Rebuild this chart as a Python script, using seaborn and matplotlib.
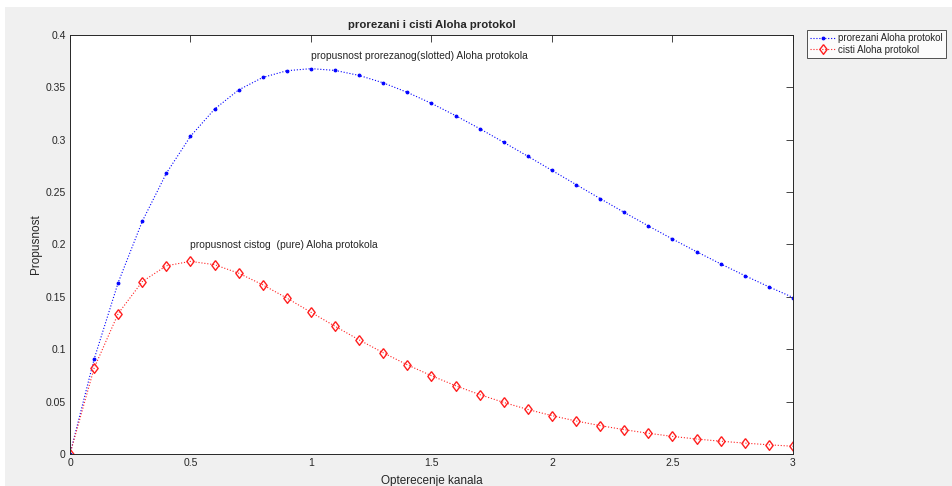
import numpy as np
import pandas as pd
import matplotlib
matplotlib.use('Agg')
import matplotlib.pyplot as plt
from matplotlib.patches import Rectangle
import seaborn as sns

# ---------------------------------- DATA ----------------------------------#
opterecenje = [0.0, 0.1, 0.2, 0.3, 0.4, 0.5, 0.6, 0.7, 0.8, 0.9, 1.0,
               1.1, 1.2, 1.3, 1.4, 1.5, 1.6, 1.7, 1.8, 1.9, 2.0,
               2.1, 2.2, 2.3, 2.4, 2.5, 2.6, 2.7, 2.8, 2.9, 3.0]
prorezani = [0.0, 0.0905, 0.1637, 0.2222, 0.2681, 0.3033, 0.3293, 0.3476, 0.3595, 0.3659, 0.3679,
             0.3662, 0.3614, 0.3543, 0.3452, 0.3347, 0.3230, 0.3106, 0.2975, 0.2842, 0.2707,
             0.2572, 0.2438, 0.2306, 0.2177, 0.2052, 0.1931, 0.1815, 0.1703, 0.1596, 0.1494]
cisti = [0.0, 0.0819, 0.1341, 0.1646, 0.1797, 0.1839, 0.1807, 0.1726, 0.1615, 0.1488, 0.1353,
         0.1219, 0.1089, 0.0966, 0.0851, 0.0747, 0.0652, 0.0567, 0.0492, 0.0425, 0.0366,
         0.0315, 0.0271, 0.0232, 0.0198, 0.0168, 0.0143, 0.0122, 0.0104, 0.0088, 0.0074]
x_ticks = [0, 0.5, 1, 1.5, 2, 2.5, 3]
y_ticks = [0, 0.05, 0.1, 0.15, 0.2, 0.25, 0.3, 0.35, 0.4]
y_ticklabels = ['0', '0.05', '0.1', '0.15', '0.2', '0.25', '0.3', '0.35', '0.4']
x_ticklabels = ['0', '0.5', '1', '1.5', '2', '2.5', '3']

df = pd.DataFrame({'G': opterecenje, 'prorezani': prorezani, 'cisti': cisti})

# ---------------------------------- PLOT ----------------------------------#
sns.set_style('white')
plt.rcParams['font.family'] = ['Liberation Sans', 'DejaVu Sans']
txt_col = '#262626'

fig = plt.figure(figsize=(9.52, 4.86), dpi=100, facecolor='#f0f0f0')
# white screenshot margin on top / left
fig.patches.append(Rectangle((0, 1 - 7/486), 1, 7/486, transform=fig.transFigure,
                             facecolor='white', edgecolor='none', zorder=-1))
fig.patches.append(Rectangle((0, 0), 5/952, 1, transform=fig.transFigure,
                             facecolor='white', edgecolor='none', zorder=-1))

ax = fig.add_axes([70/952, (486-454)/486, 723/952, 419/486])
ax.set_facecolor('white')

# matlab style diamond (a bit taller than wide)
diamond = [(0, 1), (0.75, 0), (0, -1), (-0.75, 0), (0, 1)]

sns.lineplot(data=df, x='G', y='prorezani', ax=ax, color='blue', linestyle=':',
             linewidth=0.8, marker='.', markersize=4, markeredgecolor='blue',
             label='prorezani Aloha protokol')
sns.lineplot(data=df, x='G', y='cisti', ax=ax, color='#ff2020', linestyle=':',
             linewidth=0.8, marker=diamond, markersize=7, markerfacecolor='none',
             markeredgecolor='#ff2020', markeredgewidth=1.0,
             label='cisti Aloha protokol')

ax.set_xlim(0, 3)
ax.set_ylim(0, 0.4)
ax.set_xticks(x_ticks)
ax.set_xticklabels(x_ticklabels)
ax.set_yticks(y_ticks)
ax.set_yticklabels(y_ticklabels)
ax.tick_params(direction='in', length=5, width=0.6, colors=txt_col, labelsize=7.5,
               top=True, right=True, pad=3)
for s in ax.spines.values():
    s.set_visible(True)
    s.set_color(txt_col)
    s.set_linewidth(0.7)

ax.set_title('prorezani i cisti Aloha protokol', fontsize=8.2, fontweight='bold', pad=5)
ax.set_xlabel('Opterecenje kanala', fontsize=8.5, color=txt_col, labelpad=5)
ax.set_ylabel('Propusnost', fontsize=8.5, color=txt_col, labelpad=2.5)

ax.text(1.0, 0.38, 'propusnost prorezanog(slotted) Aloha protokola', fontsize=7.4,
        va='center', ha='left')
ax.text(0.5, 0.2, 'propusnost cistog  (pure) Aloha protokola', fontsize=7.4,
        va='center', ha='left')

leg = ax.legend(loc='upper left', bbox_to_anchor=(807/952, 1 - 30/486),
                bbox_transform=fig.transFigure, fontsize=7, frameon=True,
                fancybox=False, handlelength=2.6, handletextpad=0.3,
                borderpad=0.3, labelspacing=0.2, borderaxespad=0)
leg.get_frame().set_edgecolor(txt_col)
leg.get_frame().set_linewidth(0.7)

fig.savefig('out.png', dpi=100, facecolor=fig.get_facecolor())
